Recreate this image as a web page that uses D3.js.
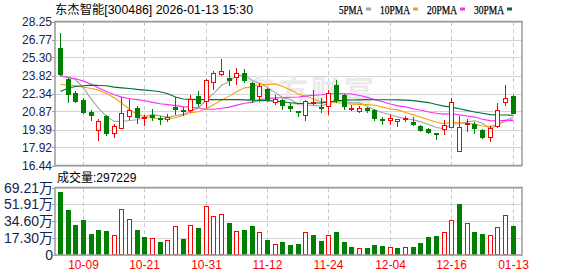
<!DOCTYPE html>
<html>
<head>
<meta charset="utf-8">
<script src="https://cdn.jsdelivr.net/npm/d3@7"></script>
<style>
body { margin: 0; background: #fff; }
svg { display: block; font-family: "Liberation Sans", Arial, "Noto Sans CJK SC", sans-serif; }
</style>
</head>
<body>
<script>
var stockTitle = '东杰智能[300486] 2026-01-13 15:30';
var volTitle = '成交量:297229';

// daily K line, 60 sessions
var opens  = [26.08, 23.52, 22.41, 21.84, 20.85, 19.36, 20.50, 19.12, 19.53, 20.48,
              21.18, 20.31, 20.59, 20.37, 20.26, 21.26, 21.02, 21.02, 22.13, 21.70,
              23.28, 23.93, 23.60, 23.68, 24.06, 23.19, 22.11, 22.71, 21.65, 21.84,
              21.29, 20.94, 20.59, 21.60, 21.24, 21.35, 23.06, 22.22, 21.05, 20.94,
              21.18, 20.97, 20.26, 20.20, 20.12, 20.26, 20.01, 19.72, 19.47, 19.14,
              19.47, 19.61, 17.60, 19.88, 19.85, 19.36, 18.79, 19.66, 21.65, 22.13];
var closes = [23.98, 22.27, 21.75, 20.80, 20.58, 20.12, 19.09, 19.69, 20.75, 21.02,
              20.42, 20.40, 20.44, 20.26, 20.42, 21.10, 20.94, 21.89, 21.56, 23.44,
              24.01, 24.20, 23.49, 24.01, 23.47, 21.89, 23.00, 21.84, 21.92, 21.37,
              21.13, 20.86, 21.70, 21.66, 21.13, 22.38, 21.84, 21.35, 21.13, 21.18,
              21.02, 20.34, 20.15, 20.31, 20.26, 20.31, 19.85, 19.39, 19.17, 19.06,
              19.80, 21.67, 19.61, 19.96, 19.50, 18.76, 19.53, 20.99, 21.97, 20.72];
var highs  = [27.27, 23.65, 22.57, 21.97, 21.02, 20.26, 20.61, 19.88, 22.03, 21.92,
              21.29, 20.61, 21.07, 20.48, 20.67, 22.05, 21.21, 22.24, 22.57, 23.55,
              24.20, 25.18, 24.28, 24.47, 24.34, 23.28, 23.19, 22.76, 22.24, 21.89,
              21.56, 20.94, 21.84, 22.62, 21.97, 22.60, 23.44, 22.27, 21.37, 21.29,
              21.24, 21.07, 20.42, 20.61, 20.29, 20.53, 20.39, 19.80, 19.55, 19.14,
              20.20, 21.97, 20.48, 20.29, 20.01, 19.44, 19.72, 21.56, 23.03, 22.19];
var lows   = [23.90, 21.62, 21.67, 20.75, 20.15, 18.55, 18.98, 18.79, 19.50, 20.26,
              19.93, 19.80, 20.15, 19.82, 20.12, 20.69, 20.61, 20.86, 21.29, 21.24,
              22.73, 23.87, 23.06, 23.14, 23.28, 21.62, 21.75, 21.70, 21.48, 21.07,
              20.91, 20.48, 20.15, 21.51, 20.80, 20.64, 21.65, 21.07, 20.97, 20.83,
              20.83, 20.15, 19.82, 19.88, 19.66, 20.07, 19.80, 19.27, 19.07, 18.63,
              19.01, 19.61, 17.60, 19.25, 19.09, 18.68, 18.47, 19.61, 21.40, 20.72];

// volume, in 万 shares
var volumes = [65.1, 45.8, 30.5, 35.6, 21.4, 25.4, 24.4, 21.0, 46.8, 36.6,
               25.4, 18.3, 17.3, 13.2, 14.9, 30.2, 16.3, 31.2, 27.5, 50.5,
               40.4, 42.4, 32.6, 25.1, 25.4, 29.5, 23.1, 15.3, 10.9, 13.2,
               10.2, 11.2, 23.4, 20.4, 14.2, 20.4, 23.4, 13.2, 8.1, 7.1,
               7.1, 10.2, 9.2, 8.1, 7.1, 8.1, 8.1, 12.2, 18.3, 19.3,
               23.4, 35.6, 51.9, 32.6, 23.4, 21.4, 20.4, 28.5, 40.7, 29.72];

// moving averages as drawn
var ma5  = [23.79, 23.66, 23.47, 22.79, 21.88, 21.10, 20.47, 20.06, 20.05, 20.13,
            20.19, 20.46, 20.61, 20.51, 20.39, 20.52, 20.63, 20.92, 21.18, 21.79,
            22.37, 23.02, 23.34, 23.83, 23.84, 23.41, 23.17, 22.84, 22.42, 22.00,
            21.85, 21.42, 21.40, 21.36, 21.31, 21.56, 21.76, 21.69, 21.57, 21.58,
            21.30, 21.00, 20.76, 20.60, 20.42, 20.27, 20.18, 20.02, 19.80, 19.56,
            19.45, 19.82, 19.86, 20.02, 20.11, 19.90, 19.47, 19.75, 20.15, 20.39];
var ma10 = [23.11, 23.03, 22.97, 22.87, 22.76, 22.62, 22.35, 22.00, 21.56, 21.01,
            20.65, 20.46, 20.33, 20.28, 20.26, 20.36, 20.54, 20.76, 20.85, 21.09,
            21.45, 21.82, 22.13, 22.51, 22.81, 22.89, 23.10, 23.09, 23.13, 22.92,
            22.63, 22.30, 22.12, 21.89, 21.66, 21.71, 21.59, 21.54, 21.46, 21.45,
            21.43, 21.38, 21.23, 21.08, 21.00, 20.79, 20.59, 20.39, 20.20, 19.99,
            19.86, 20.00, 19.94, 19.91, 19.83, 19.68, 19.65, 19.81, 20.09, 20.25];
var ma20 = [23.79, 23.68, 23.55, 23.36, 23.11, 22.79, 22.51, 22.24, 22.05, 21.92,
            21.84, 21.75, 21.62, 21.51, 21.43, 21.35, 21.27, 21.22, 21.15, 21.05,
            21.05, 21.14, 21.23, 21.39, 21.54, 21.62, 21.82, 21.93, 21.99, 22.00,
            22.04, 22.06, 22.13, 22.20, 22.24, 22.30, 22.34, 22.32, 22.30, 22.18,
            22.03, 21.84, 21.67, 21.49, 21.33, 21.25, 21.09, 20.97, 20.83, 20.72,
            20.65, 20.69, 20.59, 20.50, 20.41, 20.23, 20.12, 20.10, 20.14, 20.12];
var ma30 = [22.51, 22.79, 22.92, 22.98, 23.03, 23.00, 22.98, 22.87, 22.81, 22.76,
            22.68, 22.62, 22.57, 22.49, 22.32, 22.05, 21.89, 21.86, 21.84, 21.84,
            21.84, 21.84, 21.84, 21.84, 21.82, 21.80, 21.78, 21.75, 21.72, 21.67,
            21.58, 21.53, 21.53, 21.56, 21.58, 21.65, 21.74, 21.80, 21.81, 21.82,
            21.84, 21.83, 21.83, 21.83, 21.82, 21.80, 21.76, 21.68, 21.60, 21.45,
            21.31, 21.23, 21.10, 20.96, 20.83, 20.72, 20.61, 20.58, 20.58, 20.56];

var priceTicks = [16.44, 17.92, 19.39, 20.87, 22.34, 23.82, 25.30, 26.77, 28.25];
var volTicks = [0, 17.30, 34.60, 51.91, 69.21];
var dateTickIdx = [3, 11, 19, 27, 35, 43, 51, 59];
var dateTickLabels = ['10-09', '10-21', '10-31', '11-12', '11-24', '12-04', '12-16', '01-13'];

var maNames = ['5PMA', '10PMA', '20PMA', '30PMA'];
var maColors = ['#a3a3a3', '#f4a30c', '#ff2cff', '#00703a'];

var width = 578, height = 276;
var left = 55, right = 522;
var pTop = 21.5, pBot = 165.5,
    vTop = 187.5, vBot = 255;

var UP = '#ff0000', DOWN = '#008000';
var gridColor = '#d4d4d4', frameColor = '#9c9c9c', axisText = '#15244f';

var svg = d3.select('body').append('svg')
    .attr('width', width)
    .attr('height', height);

var x = d3.scaleBand()
    .domain(d3.range(closes.length))
    .range([56.67, 516.87])
    .paddingInner(0.35)
    .paddingOuter(0.175);

function cx(i) {
    return Math.floor(x(i) + x.bandwidth() / 2) + 0.5;
}

var y = d3.scaleLinear().domain([16.44, 28.25]).range([pBot, pTop]);
var yv = d3.scaleLinear().domain([0, 69.21]).range([vBot, vTop]);

// title + legend
svg.append('text')
    .attr('x', 55).attr('y', 14)
    .attr('font-size', 12)
    .attr('textLength', 198)
    .attr('lengthAdjust', 'spacingAndGlyphs')
    .attr('fill', '#000')
    .text(stockTitle);

var lx = 339;
maNames.forEach(function(name, k) {
    var tw = name.length * 6;
    svg.append('text')
        .attr('x', lx).attr('y', 13.5)
        .attr('font-family', '"Liberation Serif", serif')
        .attr('font-size', 12.5)
        .attr('textLength', tw)
        .attr('lengthAdjust', 'spacingAndGlyphs')
        .attr('fill', '#000')
        .attr('stroke', '#000')
        .attr('stroke-width', 0.25)
        .text(name);
    svg.append('rect')
        .attr('x', lx + tw + 3).attr('y', 7.5)
        .attr('width', 5).attr('height', 3)
        .attr('fill', maColors[k]);
    lx += tw + 3 + 5 + 9;
});

svg.append('text')
    .attr('x', 57).attr('y', 182)
    .attr('font-size', 12)
    .attr('fill', '#000')
    .text(volTitle);

// grids
var grid = svg.append('g').attr('shape-rendering', 'crispEdges');

grid.selectAll('.hp').data(priceTicks).enter().append('line')
    .attr('x1', left).attr('x2', right)
    .attr('y1', function(d) { return Math.round(y(d)) + 0.5; })
    .attr('y2', function(d) { return Math.round(y(d)) + 0.5; })
    .attr('stroke', gridColor);

grid.selectAll('.hv').data(volTicks).enter().append('line')
    .attr('x1', left).attr('x2', right)
    .attr('y1', function(d) { return Math.round(yv(d)) + 0.5; })
    .attr('y2', function(d) { return Math.round(yv(d)) + 0.5; })
    .attr('stroke', gridColor);

[[pTop, pBot], [vTop, vBot]].forEach(function(r) {
    grid.selectAll(null).data(dateTickIdx).enter().append('line')
        .attr('x1', cx).attr('x2', cx)
        .attr('y1', r[0]).attr('y2', r[1])
        .attr('stroke', '#c8c8c8')
        .attr('stroke-dasharray', '4,3');
});

// watermark
svg.append('text')
    .attr('x', 245).attr('y', 101)
    .attr('font-family', '"Noto Sans CJK SC", sans-serif')
    .attr('font-size', 30)
    .attr('font-weight', 'bold')
    .attr('letter-spacing', 3)
    .attr('fill', '#eaeaea')
    .text('东方财富');

// axis labels
svg.selectAll('.pl').data(priceTicks).enter().append('text')
    .attr('x', 52).attr('y', function(d) { return y(d); })
    .attr('dy', '0.36em')
    .attr('text-anchor', 'end')
    .attr('font-size', 12)
    .attr('fill', axisText)
    .text(function(d) { return d.toFixed(2); });

svg.selectAll('.vl').data(volTicks).enter().append('text')
    .attr('x', 53).attr('y', function(d) { return yv(d); })
    .attr('dy', '0.36em')
    .attr('text-anchor', 'end')
    .attr('font-size', 14)
    .attr('fill', axisText)
    .text(function(d) { return d === 0 ? '0' : d.toFixed(2) + '万'; });

var ticks = svg.append('g').attr('shape-rendering', 'crispEdges');
priceTicks.forEach(function(d) {
    ticks.append('line').attr('x1', 52).attr('x2', 55)
        .attr('y1', Math.round(y(d)) + 0.5).attr('y2', Math.round(y(d)) + 0.5)
        .attr('stroke', frameColor);
});
volTicks.forEach(function(d) {
    ticks.append('line').attr('x1', 52).attr('x2', 55)
        .attr('y1', Math.round(yv(d)) + 0.5).attr('y2', Math.round(yv(d)) + 0.5)
        .attr('stroke', frameColor);
});

svg.selectAll('.xl').data(dateTickIdx).enter().append('text')
    .attr('x', function(d) { return cx(d); })
    .attr('y', 269)
    .attr('text-anchor', 'middle')
    .attr('font-size', 12)
    .attr('fill', '#ff0000')
    .text(function(d, k) { return dateTickLabels[k]; });

// moving averages
var line = d3.line()
    .x(function(d, i) { return x(i) + x.bandwidth() / 2; })
    .y(function(d) { return y(d); });

[ma5, ma10, ma20, ma30].forEach(function(s, k) {
    svg.append('path')
        .attr('d', line(s))
        .attr('fill', 'none')
        .attr('stroke', maColors[k])
        .attr('stroke-width', 1.1);
});

// candles
var candles = svg.append('g').attr('shape-rendering', 'crispEdges');
var idx = d3.range(closes.length);

candles.selectAll('.wick').data(idx).enter().append('line')
    .attr('x1', cx).attr('x2', cx)
    .attr('y1', function(i) { return Math.round(y(highs[i])); })
    .attr('y2', function(i) { return Math.round(y(lows[i])) + 1; })
    .attr('stroke', function(i) { return closes[i] >= opens[i] ? UP : DOWN; });

candles.selectAll('.body').data(idx).enter().append('rect')
    .each(function(i) {
        var up = closes[i] >= opens[i];
        var top = Math.round(y(Math.max(opens[i], closes[i])));
        var bot = Math.round(y(Math.min(opens[i], closes[i])));
        var c = Math.floor(x(i) + x.bandwidth() / 2);
        var el = d3.select(this);
        if (up) {
            el.attr('x', c - 1.5).attr('width', 4)
              .attr('y', top + 0.5).attr('height', Math.max(0, bot - top))
              .attr('fill', '#fff').attr('stroke', UP);
        } else {
            el.attr('x', c - 2).attr('width', 5)
              .attr('y', top).attr('height', Math.max(1, bot - top + 1))
              .attr('fill', DOWN);
        }
    });

// volume bars: colour by change against previous close
var bars = svg.append('g').attr('shape-rendering', 'crispEdges');
bars.selectAll('.vol').data(idx).enter().append('rect')
    .each(function(i) {
        var up = i === 0 ? closes[i] >= opens[i] : closes[i] >= closes[i - 1];
        var top = Math.round(yv(volumes[i]));
        var c = Math.floor(x(i) + x.bandwidth() / 2);
        var el = d3.select(this);
        if (up) {
            el.attr('x', c - 1.5).attr('width', 4)
              .attr('y', top + 0.5).attr('height', vBot - top - 1)
              .attr('fill', '#fff').attr('stroke', UP);
        } else {
            el.attr('x', c - 2).attr('width', 5)
              .attr('y', top).attr('height', vBot - top)
              .attr('fill', DOWN);
        }
    });

// frames
svg.append('rect')
    .attr('x', left).attr('y', pTop)
    .attr('width', right - left).attr('height', pBot - pTop)
    .attr('fill', 'none').attr('stroke', frameColor).attr('stroke-width', 1.5);
svg.append('rect')
    .attr('x', left).attr('y', vTop)
    .attr('width', right - left).attr('height', vBot - vTop)
    .attr('fill', 'none').attr('stroke', frameColor).attr('stroke-width', 1.5);
</script>
</body>
</html>
